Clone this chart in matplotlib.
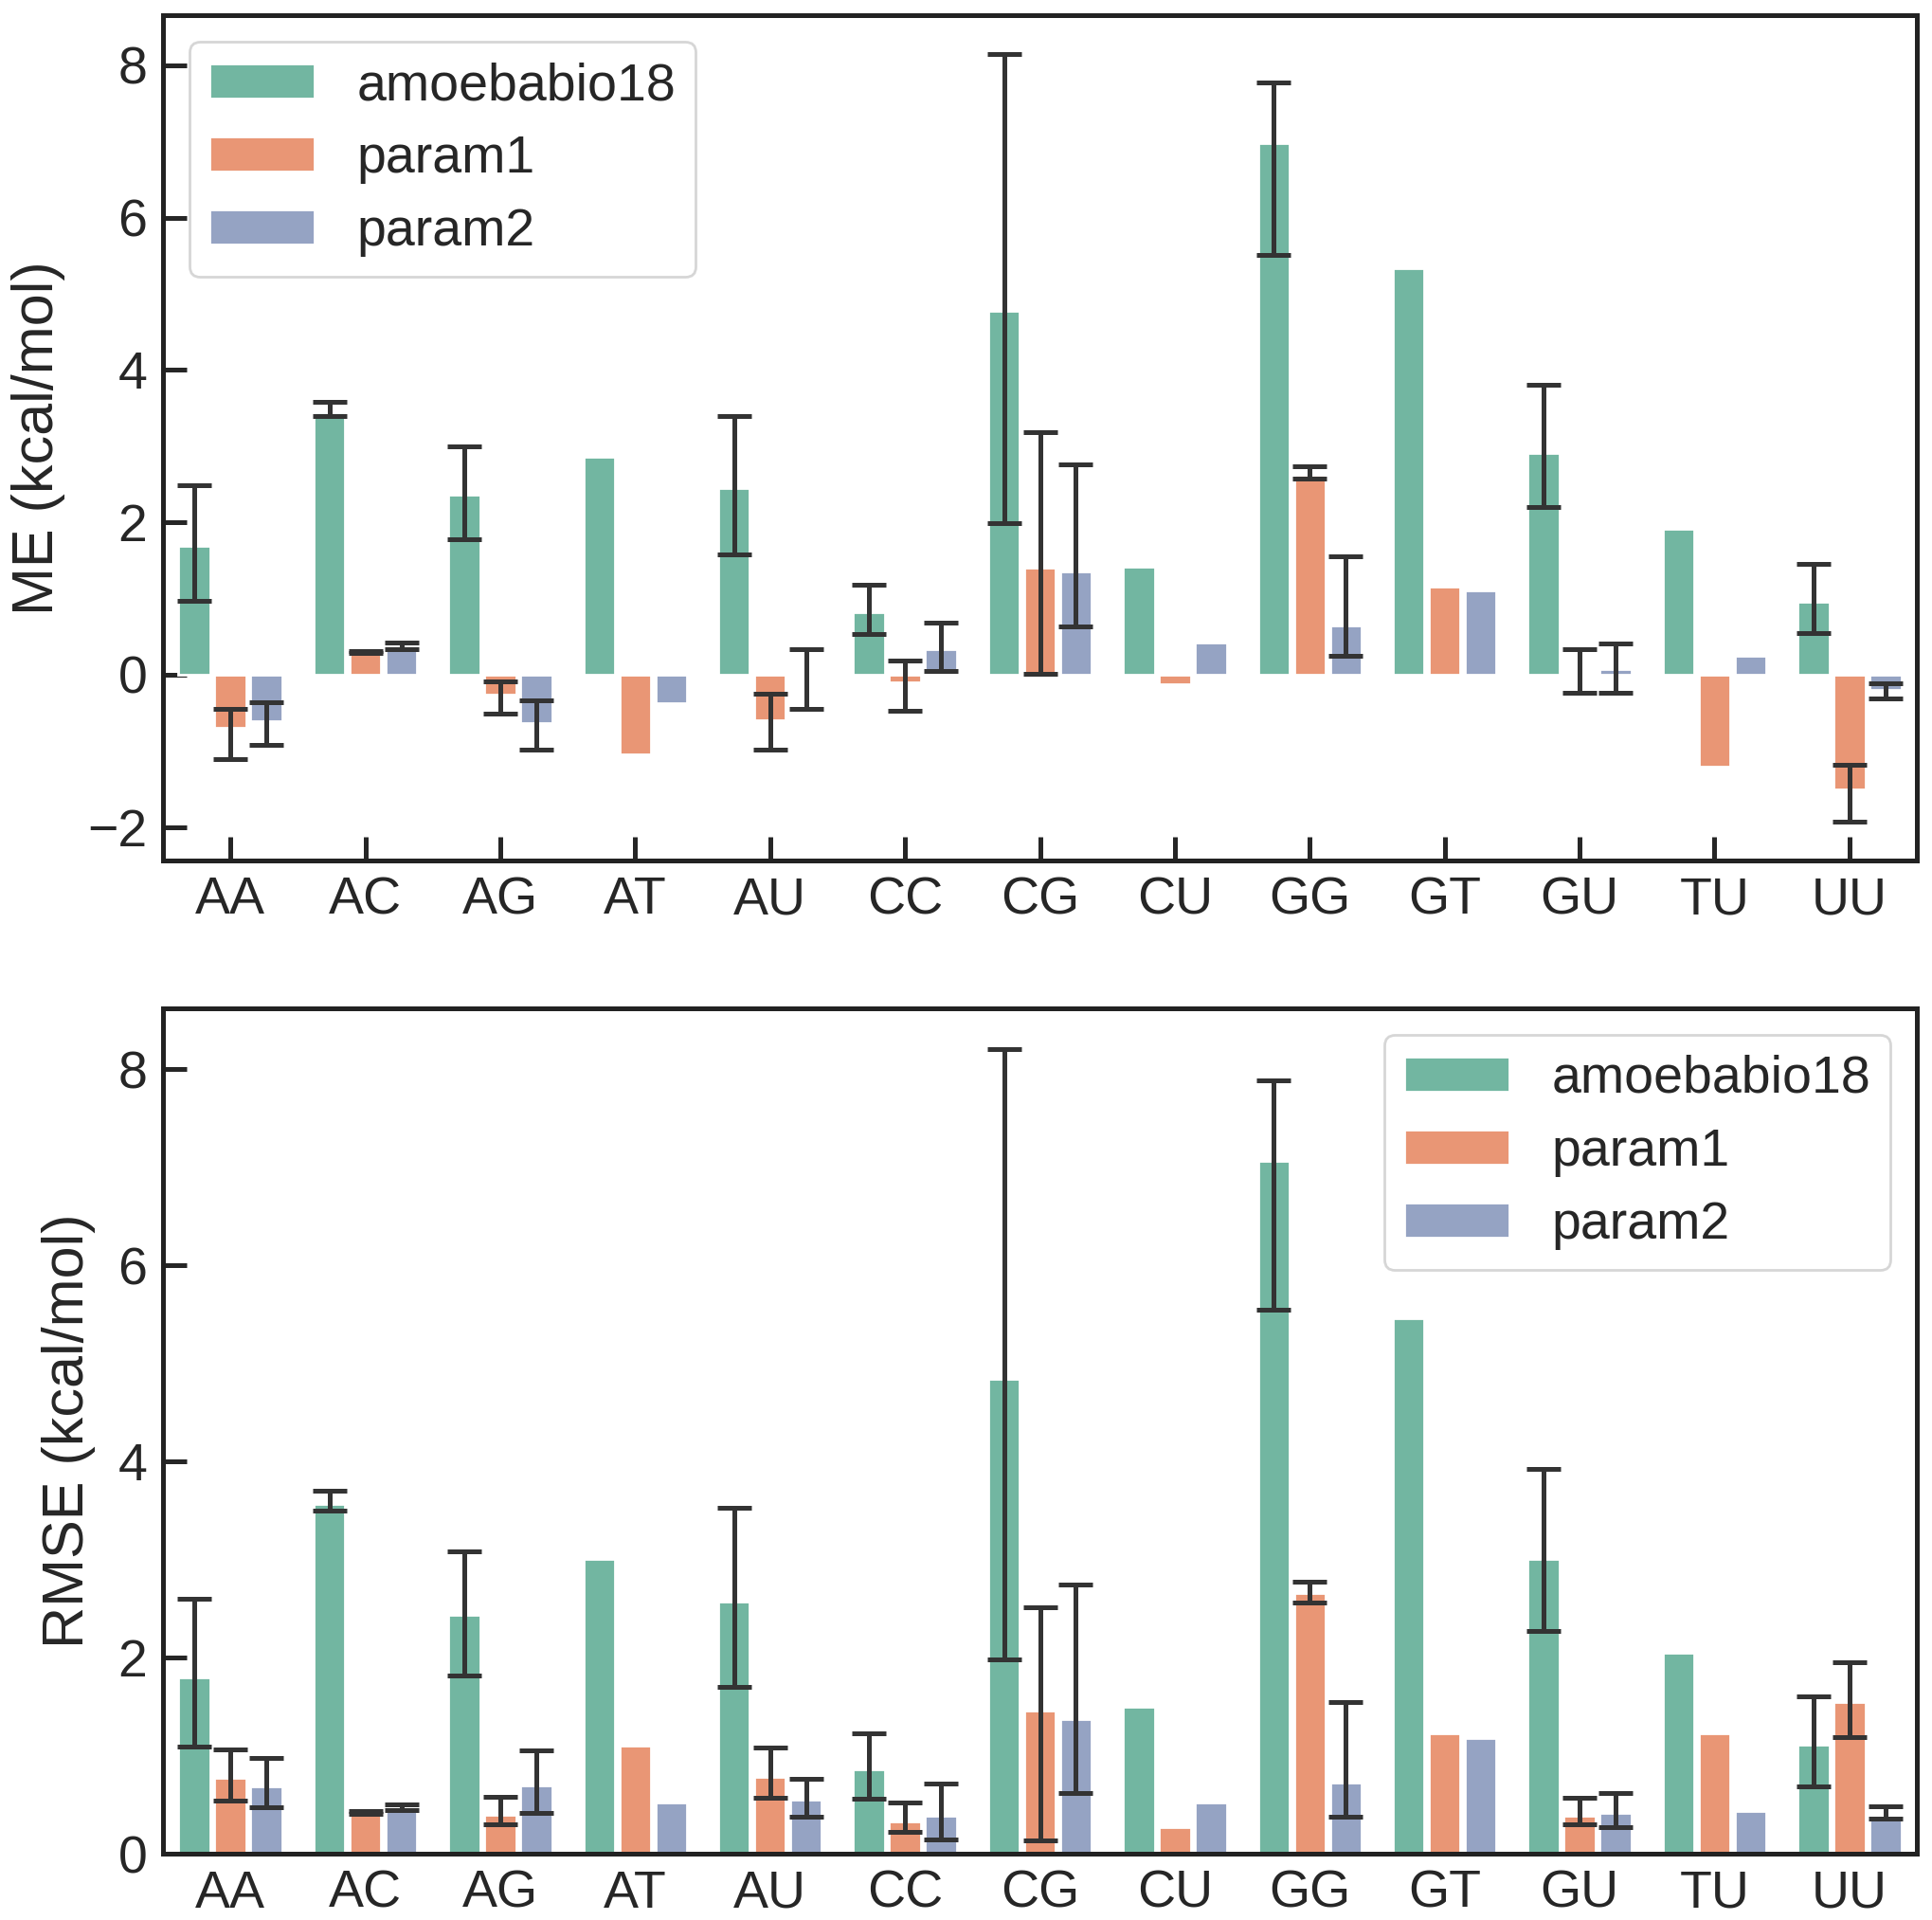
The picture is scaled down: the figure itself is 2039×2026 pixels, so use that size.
import numpy as np
import matplotlib
matplotlib.use("Agg")
import matplotlib.pyplot as plt
import seaborn as sns

nan = np.nan
categories = ["AA", "AC", "AG", "AT", "AU", "CC", "CG", "CU", "GG", "GT", "GU", "TU", "UU"]
series = ["amoebabio18", "param1", "param2"]

# ME panel
me_amoeba = [1.69, 3.45, 2.36, 2.86, 2.45, 0.82, 4.78, 1.42, 6.98, 5.34, 2.91, 1.91, 0.96]
me_amoeba_lo = [0.97, 3.40, 1.78, nan, 1.58, 0.53, 1.99, nan, 5.51, nan, 2.20, nan, 0.55]
me_amoeba_hi = [2.49, 3.58, 3.00, nan, 3.40, 1.18, 8.15, nan, 7.77, nan, 3.80, nan, 1.45]
me_param1 = [-0.70, 0.29, -0.26, -1.05, -0.60, -0.10, 1.40, -0.12, 2.62, 1.16, 0.02, -1.21, -1.51]
me_param1_lo = [-1.11, 0.28, -0.51, nan, -0.98, -0.47, 0.01, nan, 2.57, nan, -0.24, nan, -1.93]
me_param1_hi = [-0.45, 0.31, -0.09, nan, -0.25, 0.18, 3.18, nan, 2.73, nan, 0.33, nan, -1.18]
me_param2 = [-0.61, 0.36, -0.63, -0.37, -0.02, 0.34, 1.36, 0.42, 0.65, 1.11, 0.07, 0.25, -0.20]
me_param2_lo = [-0.92, 0.34, -0.98, nan, -0.45, 0.05, 0.63, nan, 0.25, nan, -0.24, nan, -0.31]
me_param2_hi = [-0.36, 0.42, -0.34, nan, 0.33, 0.68, 2.76, nan, 1.56, nan, 0.41, nan, -0.11]

# RMSE panel
rmse_amoeba = [1.80, 3.57, 2.44, 3.01, 2.57, 0.86, 4.84, 1.50, 7.07, 5.46, 3.01, 2.05, 1.11]
rmse_amoeba_lo = [1.09, 3.50, 1.82, nan, 1.70, 0.56, 1.98, nan, 5.55, nan, 2.27, nan, 0.69]
rmse_amoeba_hi = [2.60, 3.70, 3.08, nan, 3.53, 1.23, 8.21, nan, 7.89, nan, 3.92, nan, 1.61]
rmse_param1 = [0.77, 0.42, 0.40, 1.10, 0.78, 0.33, 1.46, 0.27, 2.66, 1.23, 0.39, 1.23, 1.55]
rmse_param1_lo = [0.54, 0.41, 0.30, nan, 0.57, 0.22, 0.14, nan, 2.56, nan, 0.30, nan, 1.19]
rmse_param1_hi = [1.06, 0.44, 0.58, nan, 1.08, 0.52, 2.51, nan, 2.77, nan, 0.57, nan, 1.95]
rmse_param2 = [0.69, 0.46, 0.70, 0.52, 0.55, 0.39, 1.37, 0.52, 0.73, 1.18, 0.42, 0.44, 0.39]
rmse_param2_lo = [0.47, 0.45, 0.42, nan, 0.38, 0.15, 0.62, nan, 0.38, nan, 0.27, nan, 0.36]
rmse_param2_hi = [0.98, 0.50, 1.05, nan, 0.76, 0.72, 2.75, nan, 1.55, nan, 0.62, nan, 0.48]

sns.set_style("ticks")
plt.rcParams['font.family'] = ['Liberation Sans', 'DejaVu Sans']

colors = [sns.desaturate(c, 0.75) for c in sns.color_palette("Set2", 3)]

fig = plt.figure(figsize=(10.2, 10.13), dpi=200)
ax1 = fig.add_axes([0.0843, 0.552, 0.9074, 0.440])
ax2 = fig.add_axes([0.0843, 0.0345, 0.9074, 0.4403])

FS = 20


def draw(ax, vals, los, his, ylabel, legend_loc):
    x = np.arange(len(categories))
    slot = 0.8 / 3
    for j, (v, lo, hi) in enumerate(zip(vals, los, his)):
        v = np.array(v, float)
        lo = np.array(lo, float)
        hi = np.array(hi, float)
        pos = x + (j - 1) * slot
        ax.bar(pos, v, width=slot * 0.88, color=colors[j], label=series[j], zorder=2)
        m = ~np.isnan(lo)
        mid = (lo + hi) / 2
        ax.errorbar(pos[m], mid[m], yerr=((hi - lo) / 2)[m], fmt='none', ecolor='#333333',
                    elinewidth=1.8, capsize=6.5, capthick=1.8, zorder=3)
    ax.set_xlim(-0.5, len(categories) - 0.5)
    ax.set_xticks(x)
    ax.set_xticklabels(categories)
    ax.set_ylabel(ylabel, fontsize=22, labelpad=8.5)
    ax.tick_params(direction='in', length=9, width=1.8, labelsize=FS, pad=6)
    for s in ax.spines.values():
        s.set_linewidth(1.8)
        s.set_color('#222222')
    ax.legend(loc=legend_loc, fontsize=FS, handlelength=2.0, handleheight=0.65,
              labelspacing=0.45, handletextpad=0.8, borderpad=0.38)
    return ax


draw(ax1, [me_amoeba, me_param1, me_param2],
     [me_amoeba_lo, me_param1_lo, me_param2_lo],
     [me_amoeba_hi, me_param1_hi, me_param2_hi], "ME (kcal/mol)", "upper left")
ax1.set_yticks([-2, 0, 2, 4, 6, 8])

draw(ax2, [rmse_amoeba, rmse_param1, rmse_param2],
     [rmse_amoeba_lo, rmse_param1_lo, rmse_param2_lo],
     [rmse_amoeba_hi, rmse_param1_hi, rmse_param2_hi], "RMSE (kcal/mol)", "upper right")
ax2.set_yticks([0, 2, 4, 6, 8])

fig.savefig("out.png", dpi=200)
